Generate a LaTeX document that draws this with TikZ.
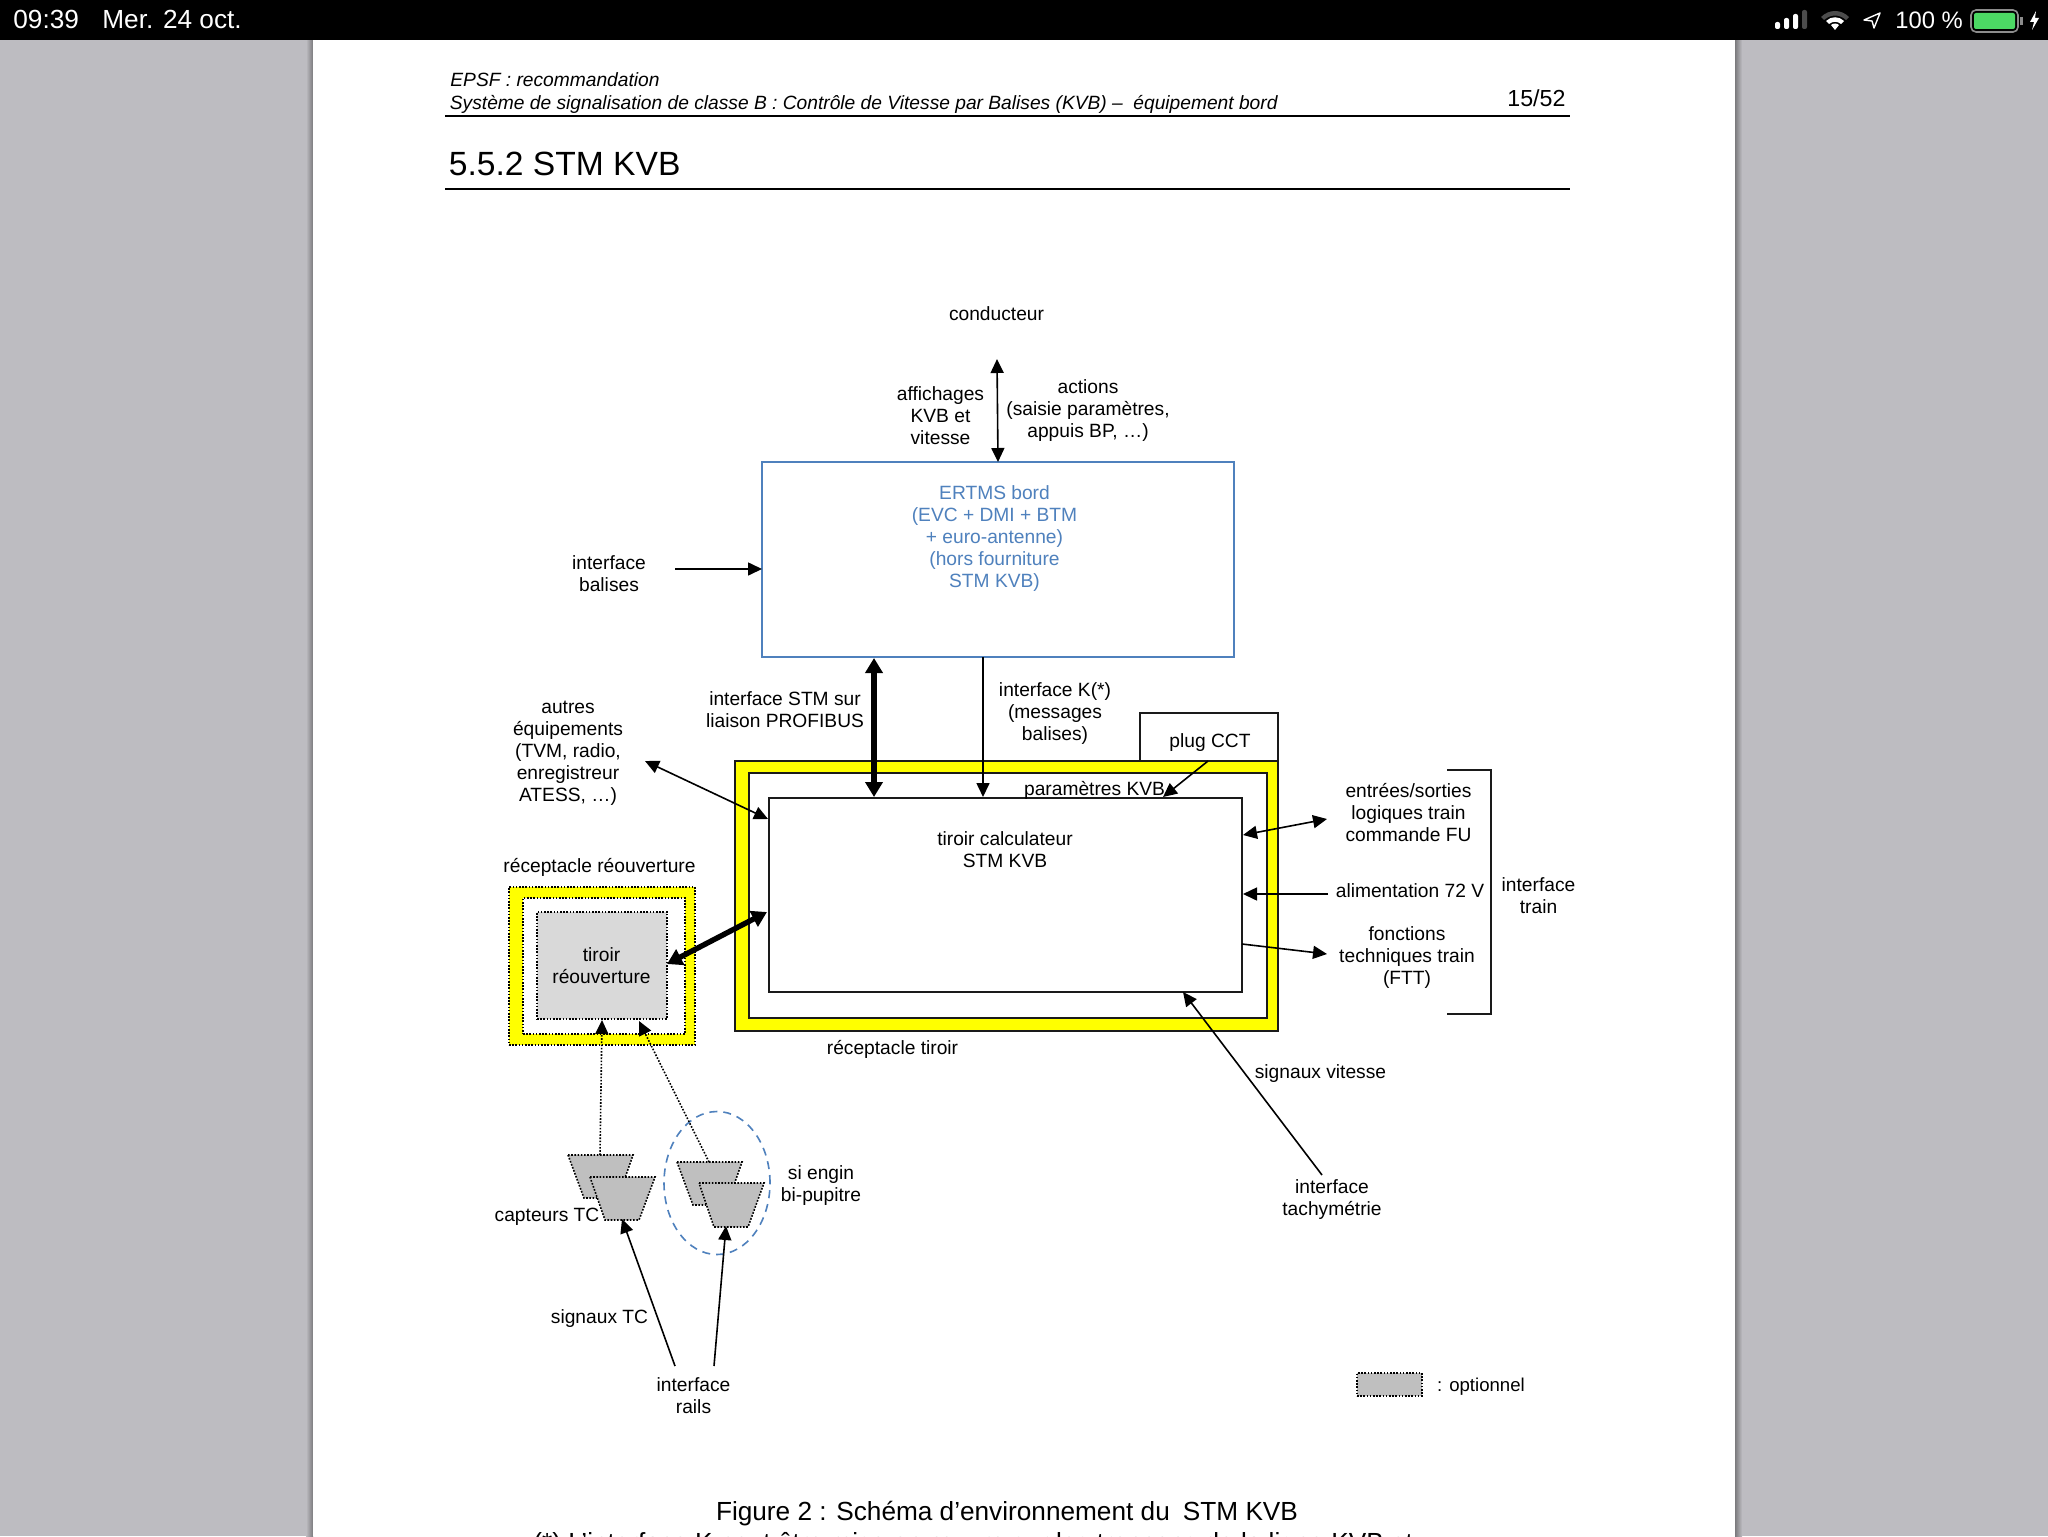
\documentclass[tikz,border=0pt]{standalone}
\usepackage{fontspec}
\setmainfont{Liberation Sans}
\usetikzlibrary{arrows.meta,fit,shapes.geometric}
\definecolor{bgray}{HTML}{BDBCC1}
\definecolor{ublue}{HTML}{4F81BD}
\definecolor{yel}{HTML}{FFFF00}
\definecolor{optg}{HTML}{BFBFBF}
\definecolor{optl}{HTML}{D9D9D9}
\definecolor{batg}{HTML}{4CD964}
\definecolor{edge}{HTML}{1A1A1A}
\tikzset{
  lab/.style={inner sep=0pt,align=center,font=\fontsize{9.6}{11}\selectfont,text=black},
  bluelab/.style={lab,text=ublue},
  bar/.style={inner sep=0pt,text=white,font=\fontsize{13.1}{15}\selectfont},
  pagetext/.style={inner sep=0pt,anchor=base west,text=black},
  solidbox/.style={inner sep=0pt,draw=edge,line width=.9pt},
  yelbox/.style={solidbox,fill=yel},
  whitebox/.style={solidbox,fill=white},
  dotbox/.style={inner sep=0pt,draw=black,line width=.8pt,dash pattern=on .8pt off .8pt},
  thin arrow/.style={draw=black,line width=.8pt,-{Triangle[length=7pt,width=6.5pt]}},
  thin both/.style={draw=black,line width=.8pt,{Triangle[length=7pt,width=6.5pt]}-{Triangle[length=7pt,width=6.5pt]}},
  thick both/.style={draw=black,line width=2.7pt,{Triangle[length=7.5pt,width=8.5pt]}-{Triangle[length=7.5pt,width=8.5pt]}},
  dot arrow/.style={draw=black,line width=.8pt,dash pattern=on .8pt off .8pt,-{Triangle[length=7pt,width=6.5pt]}},
  trap/.style={fill=optg,draw=black,line width=.8pt,dash pattern=on .8pt off .8pt},
}
\begin{document}
\begin{tikzpicture}[x=0.5pt,y=-0.5pt]
\useasboundingbox (0,0) rectangle (2048,1536);
\clip (0,0) rectangle (2048,1536);
% background
\fill[bgray] (0,0) rectangle (2048,1536);
\shade[left color=bgray,right color=black!35!bgray] (306,40) rectangle (313,1536);
\shade[left color=black!35!bgray,right color=bgray] (1735,40) rectangle (1742,1536);
\fill[white] (313,40) rectangle (1735,1536);
\fill[black] (0,0) rectangle (2048,40);
% status bar
\node[bar,anchor=base west] (time) at (13,29) {09:39};
\node[bar,anchor=base west] (date) at (102,29) {Mer. 24 oct.};
\fill[white,rounded corners=1pt] (1775,22) rectangle (1780,29);
\fill[white,rounded corners=1pt] (1784,18) rectangle (1789,29);
\fill[white,rounded corners=1pt] (1793,14) rectangle (1798,29);
\fill[black!70!white,rounded corners=1pt] (1802,10) rectangle (1807,29);
\fill[black!70!white] (1821,17) .. controls (1829,9) and (1841,9) .. (1849,17) -- (1846,20) .. controls (1839,14) and (1831,14) .. (1824,20) -- cycle;
\fill[white] (1826,21) .. controls (1831,16) and (1839,16) .. (1844,21) -- (1841,24) .. controls (1837,21) and (1833,21) .. (1829,24) -- cycle;
\fill[white] (1831,25) .. controls (1833,23) and (1837,23) .. (1839,25) -- (1835,30) -- cycle;
\draw[white,line width=.7pt,line join=round] (1864,20) -- (1880,13) -- (1874,28) -- (1872,21) -- cycle;
\node[bar,anchor=base west,font=\fontsize{11.9}{14}\selectfont] (batt) at (1895,29) {100 \%};
\draw[black!45!white,line width=.8pt,rounded corners=2.5pt] (1971,10) rectangle (2018,32);
\fill[batg,rounded corners=1pt] (1974,13) rectangle (2015,29);
\fill[black!45!white] (2020,17) rectangle (2023,25);
\fill[white] (2036,11) -- (2030,22) -- (2034,22) -- (2032,30) -- (2039,18) -- (2035,18) -- cycle;
% page header
\node[pagetext,font=\fontsize{9.6}{11}\itshape] (h1) at (450,87) {EPSF : recommandation};
\node[pagetext,font=\fontsize{9.6}{11}\itshape] (h2) at (449.5,109.5) {Système de signalisation de classe B : Contrôle de Vitesse par Balises (KVB) –\hspace{.55em}équipement bord};
\node[pagetext,font=\fontsize{11.6}{13}\selectfont] (hp) at (1507,106) {15/52};
\draw[black,line width=.6pt] (445,116) -- (1570,116);
\node[pagetext,font=\fontsize{16.8}{20}\selectfont] (h3) at (448.5,175) {5.5.2 STM KVB};
\draw[black,line width=1.2pt] (445,189) -- (1570,189);
% boxes
\node[fit={(762,462)(1234,657)},inner sep=0pt,draw=ublue,line width=.9pt] (ertms) {};
\node[fit={(1140,713)(1278,761)},whitebox] (plug) {};
\node[fit={(735,761)(1278,1031)},yelbox] (recept) {};
\node[fit={(749,773)(1267,1018)},whitebox] (receptin) {};
\node[fit={(769,798)(1242,992)},whitebox] (tiroir) {};
\node[fit={(509,887)(695,1045)},dotbox,fill=yel] (rr) {};
\node[fit={(523,898)(685,1034)},dotbox,fill=white] (rrin) {};
\node[fit={(537,912)(667,1019)},dotbox,fill=optl] (tr) {};
% trapezoids
\path[trap] (568,1155) -- (633,1155) -- (618,1198) -- (584,1198) -- cycle;
\path[trap] (590,1177) -- (655,1177) -- (639,1220) -- (605,1220) -- cycle;
\path[trap] (677,1162) -- (742,1162) -- (727,1205) -- (693,1205) -- cycle;
\path[trap] (699,1183) -- (764,1183) -- (748,1227) -- (714,1227) -- cycle;
\node[ellipse,draw=ublue,line width=.8pt,dash pattern=on 4pt off 3pt,inner sep=0pt,minimum width=53pt,minimum height=71.5pt] (bi) at (717,1183) {};
\node[fit={(1357,1373)(1422,1396)},dotbox,fill=optg] (leg) {};
% labels
\node[lab] (cond) at (996.5,314) {conducteur};
\node[lab] (aff) at (940.5,416) {affichages\\KVB et\\vitesse};
\node[lab] (act) at (1088,410.5) {actions\\(saisie paramètres,\\appuis BP, …)};
\node[bluelab] (ert) at (994.5,538.5) {ERTMS bord\\(EVC + DMI + BTM\\+ euro-antenne)\\(hors fourniture\\STM KVB)};
\node[lab] (ib) at (609,574) {interface\\balises};
\node[lab] (istm) at (785,710) {interface STM sur\\liaison PROFIBUS};
\node[lab] (ik) at (1055,714) {interface K(*)\\(messages\\balises)};
\node[lab] (aut) at (568,753.5) {autres\\équipements\\(TVM, radio,\\enregistreur\\ATESS, …)};
\node[lab] (pcct) at (1210,743) {plug CCT};
\node[lab] (pk) at (1094.5,790) {paramètres KVB};
\node[lab] (tc) at (1005,850) {tiroir calculateur\\STM KVB};
\node[lab] (es) at (1408.5,813) {entrées/sorties\\logiques train\\commande FU};
\node[lab] (al) at (1410,891) {alimentation 72 V};
\node[lab] (ftt) at (1407,958) {fonctions\\techniques train\\(FTT)};
\node[lab] (it) at (1538.5,896) {interface\\train};
\node[lab] (rro) at (599.5,867.5) {réceptacle réouverture};
\node[lab] (tro) at (601.5,966) {tiroir\\réouverture};
\node[lab] (rt) at (892.5,1049.5) {réceptacle tiroir};
\node[lab] (sv) at (1320.5,1073.5) {signaux vitesse};
\node[lab] (ita) at (1332,1199.5) {interface\\tachymétrie};
\node[lab] (cap) at (547,1217) {capteurs TC};
\node[lab] (si) at (821,1186) {si engin\\bi-pupitre};
\node[lab] (stc) at (599.5,1318.5) {signaux TC};
\node[lab] (ir) at (693.5,1396) {interface\\rails};
\node[lab,font=\fontsize{9.3}{11}\selectfont] (opt) at (1481,1386.5) {: optionnel};
\node[inner sep=0pt,anchor=base,font=\fontsize{13.1}{15}\selectfont] (fig) at (1007,1520) {Figure 2 : Schéma d’environnement du\hspace{.5em}STM KVB};
\node[inner sep=0pt,anchor=base west,font=\fontsize{13.1}{15}\selectfont] (note) at (533,1551) {(*) L’interface K peut être mise en œuvre sur les tronçons de la ligne KVB et};
% bracket
\draw[edge,line width=.9pt] (1447,770) -- (1491,770) -- (1491,1014) -- (1447,1014);
% connector ends
\coordinate (a1) at (997,359);   \coordinate (a2) at (998,462);
\coordinate (b1) at (675,569);   \coordinate (b2) at (762,569);
\coordinate (c1) at (874,658);   \coordinate (c2) at (874,797);
\coordinate (d1) at (983,657);   \coordinate (d2) at (983,797);
\coordinate (e1) at (645,761);   \coordinate (e2) at (768,819);
\coordinate (f1) at (1208,761);  \coordinate (f2) at (1163,797);
\coordinate (g1) at (1243,835);  \coordinate (g2) at (1327,819);
\coordinate (h1) at (1328,894);  \coordinate (h2) at (1243,894);
\coordinate (i1) at (1242,944);  \coordinate (i2) at (1327,954);
\coordinate (j1) at (1322,1175); \coordinate (j2) at (1183,992);
\coordinate (k1) at (767,912);   \coordinate (k2) at (667,964);
\coordinate (l1) at (600,1155);  \coordinate (l2) at (602,1020);
\coordinate (m1) at (709,1162);  \coordinate (m2) at (639,1021);
\coordinate (n1) at (675,1366);  \coordinate (n2) at (622,1219);
\coordinate (o1) at (714,1366);  \coordinate (o2) at (726,1226);
% connectors
\draw[thin both] (a1) -- (a2);
\draw[thin arrow] (b1) -- (b2);
\draw[thick both] (c1) -- (c2);
\draw[thin arrow] (d1) -- (d2);
\draw[thin both] (e1) -- (e2);
\draw[thin arrow] (f1) -- (f2);
\draw[thin both] (g1) -- (g2);
\draw[thin arrow] (h1) -- (h2);
\draw[thin arrow] (i1) -- (i2);
\draw[thin arrow] (j1) -- (j2);
\draw[thick both] (k1) -- (k2);
\draw[dot arrow] (l1) -- (l2);
\draw[dot arrow] (m1) -- (m2);
\draw[thin arrow] (n1) -- (n2);
\draw[thin arrow] (o1) -- (o2);
\end{tikzpicture}
\end{document}
